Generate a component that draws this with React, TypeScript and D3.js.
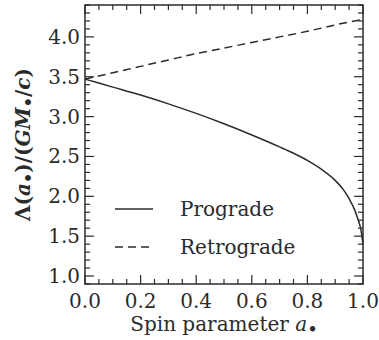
import React from "react";
import * as d3 from "d3";

const spinPro = [0, 0.1, 0.2, 0.3, 0.4, 0.5, 0.6, 0.7, 0.75, 0.8, 0.85, 0.9, 0.93, 0.95, 0.97, 0.98, 0.99, 0.995, 1.0];
const lambdaPro = [3.47, 3.37, 3.27, 3.16, 3.04, 2.91, 2.77, 2.62, 2.54, 2.45, 2.34, 2.2, 2.08, 1.97, 1.83, 1.73, 1.62, 1.53, 1.4];
const spinRetro = [0, 0.1, 0.2, 0.3, 0.4, 0.5, 0.6, 0.7, 0.8, 0.9, 1.0];
const lambdaRetro = [3.47, 3.55, 3.63, 3.71, 3.79, 3.86, 3.93, 4.0, 4.07, 4.15, 4.22];
const xTicks = [0, 0.2, 0.4, 0.6, 0.8, 1.0];
const yTicks = [1.0, 1.5, 2.0, 2.5, 3.0, 3.5, 4.0];
const legendLabels = ["Prograde", "Retrograde"];

const W = 379, H = 340;
const L = 85, R = 363, T = 5, B = 284;
const INK = "#2b2b2b";
const FONT = '"DejaVu Serif", "Liberation Serif", serif';

export default function App() {
  const x = d3.scaleLinear().domain([0, 1]).range([L, R]);
  const y = d3.scaleLinear().domain([0.9, 4.4]).range([B, T]);
  const line = d3.line<[number, number]>().x(d => x(d[0])).y(d => y(d[1])).curve(d3.curveMonotoneX);
  const pro = line(spinPro.map((a, i) => [a, lambdaPro[i]] as [number, number]));
  const retro = line(spinRetro.map((a, i) => [a, lambdaRetro[i]] as [number, number]));

  const xMinor = d3.range(0, 1.0001, 0.05).filter(v => !xTicks.some(t => Math.abs(t - v) < 1e-6));
  const yMinor = d3.range(0.9, 4.4001, 0.1).filter(v => !yTicks.some(t => Math.abs(t - v) < 1e-6));
  const MAJ = 9, MIN = 5;

  return (
    <svg width={W} height={H} style={{ position: "absolute", left: 0, top: 0, fontFamily: FONT }}>
      <rect width={W} height={H} fill="#fff" />
      <g stroke={INK} strokeWidth={1.2}>
        {xTicks.map(t => (
          <g key={"xm" + t}>
            <line x1={x(t)} x2={x(t)} y1={B} y2={B - MAJ} />
            <line x1={x(t)} x2={x(t)} y1={T} y2={T + MAJ} />
          </g>
        ))}
        {xMinor.map(t => (
          <g key={"xn" + t}>
            <line x1={x(t)} x2={x(t)} y1={B} y2={B - MIN} />
            <line x1={x(t)} x2={x(t)} y1={T} y2={T + MIN} />
          </g>
        ))}
        {yTicks.map(t => (
          <g key={"ym" + t}>
            <line x1={L} x2={L + MAJ} y1={y(t)} y2={y(t)} />
            <line x1={R} x2={R - MAJ} y1={y(t)} y2={y(t)} />
          </g>
        ))}
        {yMinor.map(t => (
          <g key={"yn" + t}>
            <line x1={L} x2={L + MIN} y1={y(t)} y2={y(t)} />
            <line x1={R} x2={R - MIN} y1={y(t)} y2={y(t)} />
          </g>
        ))}
      </g>
      <path d={retro || ""} fill="none" stroke={INK} strokeWidth={1.5} strokeDasharray="8,5" />
      <path d={pro || ""} fill="none" stroke={INK} strokeWidth={1.5} />
      <rect x={L} y={T} width={R - L} height={B - T} fill="none" stroke={INK} strokeWidth={1.5} />

      <g fill={INK} style={{ fontFamily: FONT, fontSize: 20 }}>
        {xTicks.map(t => (
          <text key={"xl" + t} x={x(t)} y={308} textAnchor="middle">{t.toFixed(1)}</text>
        ))}
        {yTicks.map(t => (
          <text key={"yl" + t} x={80} y={y(t) + 7} textAnchor="end">{t.toFixed(1)}</text>
        ))}
        <text x={224} y={331} textAnchor="middle">
          Spin parameter <tspan fontStyle="italic">a</tspan><tspan style={{ fontSize: 18 }} dy={5}>•</tspan>
        </text>
        <text transform={`translate(30, ${(T + B) / 2}) rotate(-90)`} textAnchor="middle" fontWeight="bold">
          Λ(<tspan fontStyle="italic">a</tspan><tspan style={{ fontSize: 16 }} dy={4}>•</tspan><tspan dy={-4}>)/(</tspan><tspan fontStyle="italic">GM</tspan><tspan style={{ fontSize: 16 }} dy={4}>•</tspan><tspan dy={-4}>/</tspan><tspan fontStyle="italic">c</tspan>)
        </text>
        {legendLabels.map((lab, i) => (
          <g key={lab}>
            <line x1={115} x2={153} y1={209 + i * 38} y2={209 + i * 38} stroke={INK} strokeWidth={1.5} strokeDasharray={i === 1 ? "8,5" : undefined} />
            <text x={180} y={216 + i * 38}>{lab}</text>
          </g>
        ))}
      </g>
    </svg>
  );
}
